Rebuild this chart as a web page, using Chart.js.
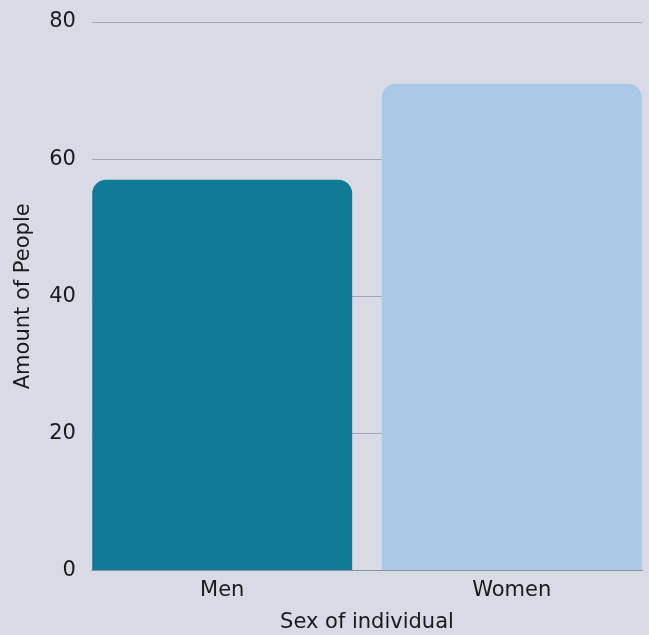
<!DOCTYPE html>
<html>
<head>
<meta charset="utf-8">
<script src="https://cdn.jsdelivr.net/npm/chart.js@4/dist/chart.umd.min.js"></script>
<style>
  html, body { margin: 0; padding: 0; background: #d8dae5; }
  #wrap { width: 649px; height: 635px; position: relative; }
</style>
</head>
<body>
<div id="wrap"><canvas id="chart"></canvas></div>
<script>
// Sex of individual vs. number of people
const categories = ['Men', 'Women'];
const amounts = [57, 71];
const barColors = ['#117a96', '#aac9e6'];
const yTicks = [0, 20, 40, 60, 80];

const FONT = "'DejaVu Sans', sans-serif";
const TEXT = '#1a1a1a';
const SIZE = 21;

// categories sit on a numeric x axis (index 0, 1) so the bars can reach the plot edges
const points = categories.map((c, i) => ({ x: i, y: amounts[i] }));

new Chart(document.getElementById('chart'), {
  type: 'bar',
  data: {
    datasets: [{
      data: points,
      backgroundColor: barColors,
      borderRadius: 14,
      borderSkipped: 'start',
      barPercentage: 0.898,
      categoryPercentage: 1.0
    }]
  },
  options: {
    responsive: true,
    maintainAspectRatio: false,
    animation: false,
    layout: { padding: { top: 0, right: 7, left: 11, bottom: 0 } },
    plugins: { legend: { display: false }, tooltip: { enabled: false } },
    scales: {
      x: {
        type: 'linear',
        offset: false,
        min: -0.45,
        max: 1.45,
        afterBuildTicks: (axis) => { axis.ticks = categories.map((c, i) => ({ value: i })); },
        grid: { display: false, drawTicks: false, offset: false },
        border: { display: true, color: '#8f929e', width: 1 },
        ticks: {
          color: TEXT, font: { family: FONT, size: SIZE }, padding: 7,
          callback: (v) => categories[v]
        },
        title: { display: true, text: 'Sex of individual', color: TEXT, font: { family: FONT, size: SIZE }, padding: { top: 0, bottom: 0 } }
      },
      y: {
        min: 0,
        max: 80,
        afterBuildTicks: (axis) => { axis.ticks = yTicks.map(v => ({ value: v })); },
        // keep the label gap from also padding the top and bottom of the plot
        afterFit: (axis) => { axis.paddingTop = 22; axis.paddingBottom = 0; },
        grid: { color: '#a3a6b3', lineWidth: 1, drawTicks: false },
        border: { display: false },
        ticks: { color: TEXT, font: { family: FONT, size: SIZE }, padding: 16 },
        title: { display: true, text: 'Amount of People', color: TEXT, font: { family: FONT, size: SIZE }, padding: { top: 0, bottom: -3 } }
      }
    }
  }
});
</script>
</body>
</html>
